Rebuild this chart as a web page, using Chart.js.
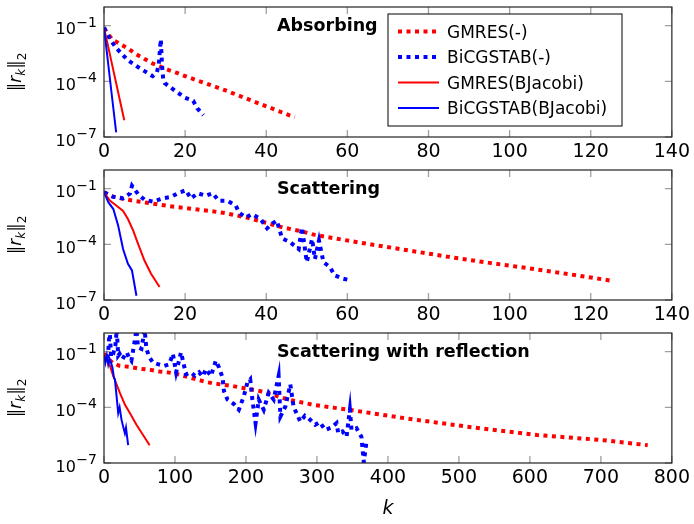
<!DOCTYPE html>
<html>
<head>
<meta charset="utf-8">
<script src="https://cdn.jsdelivr.net/npm/chart.js@4.4.1/dist/chart.umd.min.js"></script>
<style>
  body { margin: 0; background: #fff; }
  #wrap { position: relative; width: 694px; height: 524px; }
  canvas { position: absolute; left: 0; }
</style>
</head>
<body>
<div id="wrap">
  <canvas id="absChart" width="694" height="165" style="top:0px"></canvas>
  <canvas id="scaChart" width="694" height="165" style="top:163px"></canvas>
  <canvas id="refChart" width="694" height="198" style="top:326px"></canvas>
</div>
<script>
// labels
const seriesNames = ['GMRES(-)', 'BiCGSTAB(-)', 'GMRES(BJacobi)', 'BiCGSTAB(BJacobi)'];
const panelTitles = ['Absorbing', 'Scattering', 'Scattering with reflection'];
const yTickVals = [1e-1, 1e-4, 1e-7];
const yTickExp = ['\u22121', '\u22124', '\u22127'];
const smallXTicks = [0, 20, 40, 60, 80, 100, 120, 140];
const bigXTicks = [0, 100, 200, 300, 400, 500, 600, 700, 800];

// Absorbing
const absGmresK = [0, 2, 4, 6, 8, 10, 12, 14, 16, 18, 20, 23, 25, 30, 35, 40, 47];
const absGmresR = [7.1e-2, 1.8e-2, 1.0e-2, 5.6e-3, 2.8e-3, 1.6e-3, 9.1e-4, 6.0e-4, 4.0e-4, 2.8e-4, 1.9e-4, 1.1e-4, 7.9e-5, 3.2e-5, 1.2e-5, 4.5e-6, 1.15e-6];
const absBicgK = [0, 1.5, 3, 4.5, 6, 8, 10, 12, 13, 13.5, 14, 14.3, 14.6, 15, 16.5, 18.5, 20, 22, 23, 24.5];
const absBicgR = [7.9e-2, 1.8e-2, 6.3e-3, 2.8e-3, 1.3e-3, 6.6e-4, 3.5e-4, 1.9e-4, 2.8e-4, 7.9e-4, 1.8e-2, 7.9e-4, 1.3e-4, 7.9e-5, 4.5e-5, 2.2e-5, 1.3e-5, 8.9e-6, 3.5e-6, 1.5e-6];
const absGmresBjK = [0, 1, 2, 3, 4, 5];
const absGmresBjR = [7.1e-2, 8.0e-3, 7.9e-4, 7.9e-5, 7.9e-6, 7.9e-7];
const absBicgBjK = [0, 1, 2, 3];
const absBicgBjR = [7.9e-2, 1.0e-3, 1.3e-5, 1.8e-7];

// Scattering
const scaGmresK = [0, 2, 5, 8, 12, 16, 21, 26, 30, 35, 38, 44, 48, 52, 58, 65, 75, 85, 95, 105, 115, 125];
const scaGmresR = [6.3e-2, 3.8e-2, 2.7e-2, 2.1e-2, 1.55e-2, 1.15e-2, 8.5e-3, 6.3e-3, 4.7e-3, 2.8e-3, 1.9e-3, 8.1e-4, 5.4e-4, 3.2e-4, 1.9e-4, 1.05e-4, 4.7e-5, 2.1e-5, 1.0e-5, 5.0e-6, 2.4e-6, 1.1e-6];
const scaBicgK = [0, 2.3, 4.7, 6.4, 6.9, 8.4, 10, 12.1, 14.5, 16.6, 18.6, 20.2, 21.4, 23.1, 25.1, 26.8, 28.3, 30.4, 32.5, 33.3, 34.9, 36.5, 38.6, 40.2, 41.5, 42.6, 43.9, 45.9, 48, 48.8, 50, 51.3, 52, 53, 54.1, 55.7, 56.9, 59, 60.6];
const scaBicgR = [6.3e-2, 3.6e-2, 3.0e-2, 5.4e-2, 1.4e-1, 5.0e-2, 2.5e-2, 2.0e-2, 3.0e-2, 3.6e-2, 6.2e-2, 8.1e-2, 2.9e-2, 5.6e-2, 4.1e-2, 5.6e-2, 2.2e-2, 2.2e-2, 1.2e-2, 5.1e-3, 2.8e-3, 4.2e-3, 2.3e-3, 7.2e-4, 1.3e-3, 1.9e-3, 2.1e-4, 1.3e-4, 5.6e-5, 8.1e-4, 1.1e-5, 1.9e-4, 1.6e-5, 1.6e-4, 1.1e-5, 5.9e-6, 2.1e-6, 1.4e-6, 1.15e-6];
const scaGmresBjK = [0, 1.5, 3.1, 4.7, 5.9, 7.2, 8.4, 10, 11.6, 13.7];
const scaGmresBjR = [6.3e-2, 2.2e-2, 1.2e-2, 6.3e-3, 2.3e-3, 5.4e-4, 1.05e-4, 1.3e-5, 2.6e-6, 5.0e-7];
const scaBicgBjK = [0, 1.1, 2.3, 3.5, 4.7, 5.9, 6.9, 8];
const scaBicgBjR = [6.3e-2, 1.8e-2, 7.9e-3, 1.0e-3, 5.6e-5, 8.9e-6, 3.9e-6, 1.7e-7];

// Scattering with reflection
const refGmresK = [0, 4, 12, 22, 36, 50, 64, 78, 90, 104, 130, 144, 155, 181, 220, 260, 293, 325, 341, 423, 517, 610, 703, 766];
const refGmresR = [7.9e-2, 5.0e-2, 2.5e-2, 1.7e-2, 1.5e-2, 1.2e-2, 1.05e-2, 8.5e-3, 7.6e-3, 6.0e-3, 3.2e-3, 2.3e-3, 1.9e-3, 1.4e-3, 7.4e-4, 2.6e-4, 1.4e-4, 9.3e-5, 7.8e-5, 2.6e-5, 8.5e-6, 3.2e-6, 1.7e-6, 9.1e-7];
const refBicgK = [0, 3, 6, 8, 10, 13, 16, 18, 20, 22, 26, 29, 32, 35, 38.6, 43, 45.7, 47.9, 52.7, 57.3, 59.7, 64, 69, 76, 85, 92, 97, 101.6, 108.5, 115.5, 122.5, 128, 134, 139, 143.6, 150.6, 157.6, 162, 167, 169, 174, 183, 190, 197, 202, 206, 209, 213.5, 218, 225, 232, 239, 246, 248.5, 255.5, 262.5, 267, 276.5, 283, 288, 297.5, 304, 311.5, 320, 327.6, 330, 336, 341.7, 346.4, 348.7, 355.7, 362.6, 366, 369.5];
const refBicgR = [6.3e-2, 3.2e-2, 1.0e-1, 1.5, 5.0e-2, 7.6e-2, 2.0e-1, 1.5, 6.0e-2, 7.6e-2, 4.0e-2, 6.0e-2, 9.1e-2, 5.0e-2, 3.2e-2, 3.2e-1, 1.5, 1.7e-1, 1.4e-1, 1.5, 1.4e-1, 4.9e-2, 2.6e-2, 2.1e-2, 1.7e-2, 2.1e-2, 7.6e-2, 7.6e-3, 9.1e-2, 6.0e-3, 7.6e-3, 5.0e-3, 7.6e-3, 4.5e-3, 1.15e-2, 4.9e-3, 3.2e-2, 1.4e-2, 4.0e-3, 7.4e-4, 2.6e-4, 1.5e-4, 7.4e-5, 4.0e-4, 2.1e-3, 3.2e-3, 2.6e-4, 1.4e-5, 2.6e-4, 7.4e-5, 6.0e-4, 2.6e-4, 4.9e-3, 3.2e-5, 1.1e-4, 1.7e-3, 1.1e-4, 1.7e-5, 3.5e-5, 2.6e-5, 1.15e-5, 1.6e-5, 6.0e-6, 8.0e-6, 1.4e-5, 4.0e-6, 5.0e-6, 2.6e-6, 7.4e-5, 6.0e-6, 7.4e-6, 2.6e-6, 1.1e-7, 1.15e-6];
const refGmresBjK = [0, 1.4, 8.4, 13, 17.7, 22.4, 29.4, 36.4, 45.7, 55, 64.3];
const refGmresBjR = [7.9e-2, 4.9e-2, 1.7e-2, 4.9e-3, 1.7e-3, 6.0e-4, 1.4e-4, 4.9e-5, 1.15e-5, 3.2e-6, 9.1e-7];
const refBicgBjK = [0, 2, 4, 6, 8, 10, 12, 14, 15.4, 17.7, 20, 22, 24.7, 27, 29.4, 31, 34];
const refBicgBjR = [6.3e-2, 2.5e-2, 6.3e-2, 2.0e-2, 4.0e-2, 2.5e-2, 1.3e-2, 4.0e-3, 3.2e-3, 4.0e-4, 4.9e-5, 1.0e-4, 2.1e-5, 9.1e-6, 4.0e-6, 8.0e-6, 9.1e-7];

const RED = '#ff0000';
const BLUE = '#0000ff';
const FONT = '"DejaVu Sans", sans-serif';

function lineSet(label, ks, rs, color, dotted, order) {
    return {
        label: label,
        data: ks.map((k, i) => ({ x: k, y: rs[i] })),
        borderColor: color,
        backgroundColor: color,
        borderWidth: dotted ? 4 : 2,
        borderDash: dotted ? [4, 4.5] : [],
        borderCapStyle: 'butt',
        borderJoinStyle: 'miter',
        pointRadius: 0,
        fill: false,
        tension: 0,
        order: order
    };
}

function fourSets(gK, gR, bK, bR, gjK, gjR, bjK, bjR) {
    return [
        lineSet(seriesNames[0], gK, gR, RED, true, 3),
        lineSet(seriesNames[1], bK, bR, BLUE, true, 2),
        lineSet(seriesNames[2], gjK, gjR, RED, false, 1),
        lineSet(seriesNames[3], bjK, bjR, BLUE, false, 0)
    ];
}

// frame, inward ticks, y labels, titles and legend
const panelDecor = {
    id: 'panelDecor',
    beforeDatasetsDraw(chart, args, opts) {
        const { ctx, chartArea: a, scales: { x, y } } = chart;
        ctx.save();
        ctx.strokeStyle = '#a0a0a0';
        ctx.lineWidth = 1.3;
        ctx.beginPath();
        opts.xTicks.forEach(v => {
            const px = x.getPixelForValue(v);
            ctx.moveTo(px, a.bottom); ctx.lineTo(px, a.bottom - 7);
            ctx.moveTo(px, a.top); ctx.lineTo(px, a.top + 7);
        });
        yTickVals.forEach(v => {
            const py = y.getPixelForValue(v);
            ctx.moveTo(a.left, py); ctx.lineTo(a.left + 7, py);
            ctx.moveTo(a.right, py); ctx.lineTo(a.right - 7, py);
        });
        ctx.stroke();
        ctx.restore();
    },
    afterDatasetsDraw(chart, args, opts) {
        const { ctx, chartArea: a, scales: { y } } = chart;
        ctx.save();
        // frame
        ctx.strokeStyle = '#222';
        ctx.lineWidth = 1.2;
        ctx.strokeRect(a.left, a.top, a.right - a.left, a.bottom - a.top);

        // y tick labels 10^-n
        ctx.fillStyle = '#000';
        ctx.textAlign = 'right';
        ctx.textBaseline = 'alphabetic';
        yTickVals.forEach((v, i) => {
            const py = y.getPixelForValue(v);
            ctx.font = '14px ' + FONT;
            const ew = ctx.measureText(yTickExp[i]).width;
            ctx.fillText(yTickExp[i], 97, py + 1);
            ctx.font = '16px ' + FONT;
            ctx.fillText('10', 97 - ew - 0.5, py + 8.5);
        });

        // panel title
        ctx.textAlign = 'left';
        ctx.font = 'bold 17.5px ' + FONT;
        ctx.fillText(opts.title, 277, a.top + 23.5);

        // y axis title ||r_k||_2
        const parts = [
            { t: '\u2016', f: '17px ' + FONT, dy: 0 },
            { t: 'r', f: 'italic 17px ' + FONT, dy: 0 },
            { t: 'k', f: 'italic 12px ' + FONT, dy: 4 },
            { t: '\u2016', f: '17px ' + FONT, dy: 0 },
            { t: '2', f: '12px ' + FONT, dy: 5 }
        ];
        let total = 0;
        parts.forEach(p => { ctx.font = p.f; p.w = ctx.measureText(p.t).width; total += p.w; });
        ctx.save();
        ctx.translate(20.5, (a.top + a.bottom) / 2);
        ctx.rotate(-Math.PI / 2);
        let cx = -total / 2;
        parts.forEach(p => { ctx.font = p.f; ctx.fillText(p.t, cx, p.dy); cx += p.w; });
        ctx.restore();

        // x axis title
        if (opts.xTitle) {
            ctx.textAlign = 'center';
            ctx.font = 'italic 19px ' + FONT;
            ctx.fillText(opts.xTitle, (a.left + a.right) / 2, a.bottom + 51);
        }

        // legend
        if (opts.legend) {
            const bx = 388, by = 14, bw = 234, bh = 112;
            ctx.fillStyle = '#fff';
            ctx.fillRect(bx, by, bw, bh);
            ctx.strokeStyle = '#000';
            ctx.lineWidth = 1;
            ctx.strokeRect(bx, by, bw, bh);
            chart.data.datasets.forEach((ds, i) => {
                const ly = 31.5 + i * 25.5;
                ctx.strokeStyle = ds.borderColor;
                ctx.lineWidth = ds.borderWidth;
                ctx.setLineDash(ds.borderDash);
                ctx.lineCap = 'butt';
                ctx.beginPath();
                ctx.moveTo(398, ly); ctx.lineTo(439, ly);
                ctx.stroke();
                ctx.setLineDash([]);
                ctx.fillStyle = '#000';
                ctx.textAlign = 'left';
                ctx.font = '17px ' + FONT;
                ctx.fillText(ds.label, 447, ly + 6);
            });
        }
        ctx.restore();
    }
};

function makePanel(id, title, xMax, xTicks, sets, xHeight, extra) {
    return new Chart(document.getElementById(id), {
        type: 'line',
        data: { datasets: sets },
        options: {
            responsive: false,
            animation: false,
            devicePixelRatio: 1,
            layout: { padding: { left: 0, right: 18, top: 7, bottom: 0 } },
            scales: {
                x: {
                    type: 'linear',
                    min: 0,
                    max: xMax,
                    afterBuildTicks: s => { s.ticks = xTicks.map(v => ({ value: v })); },
                    afterFit: s => { s.height = xHeight; },
                    grid: { display: false, drawTicks: false },
                    border: { display: false },
                    ticks: {
                        color: '#000',
                        font: { family: FONT, size: 19 },
                        padding: 4,
                        autoSkip: false,
                        maxRotation: 0
                    }
                },
                y: {
                    type: 'logarithmic',
                    min: 1e-7,
                    max: 1,
                    afterBuildTicks: s => { s.ticks = yTickVals.map(v => ({ value: v })); },
                    afterFit: s => { s.width = 104; },
                    grid: { display: false, drawTicks: false },
                    border: { display: false },
                    ticks: { display: false }
                }
            },
            plugins: {
                legend: { display: false },
                tooltip: { enabled: false },
                panelDecor: Object.assign({ title: title, xTicks: xTicks }, extra)
            }
        },
        plugins: [panelDecor]
    });
}

makePanel('absChart', panelTitles[0], 140, smallXTicks,
    fourSets(absGmresK, absGmresR, absBicgK, absBicgR, absGmresBjK, absGmresBjR, absBicgBjK, absBicgBjR),
    28, { legend: true });
makePanel('scaChart', panelTitles[1], 140, smallXTicks,
    fourSets(scaGmresK, scaGmresR, scaBicgK, scaBicgR, scaGmresBjK, scaGmresBjR, scaBicgBjK, scaBicgBjR),
    28, {});
makePanel('refChart', panelTitles[2], 800, bigXTicks,
    fourSets(refGmresK, refGmresR, refBicgK, refBicgR, refGmresBjK, refGmresBjR, refBicgBjK, refBicgBjR),
    61, { xTitle: 'k' });
</script>
</body>
</html>
